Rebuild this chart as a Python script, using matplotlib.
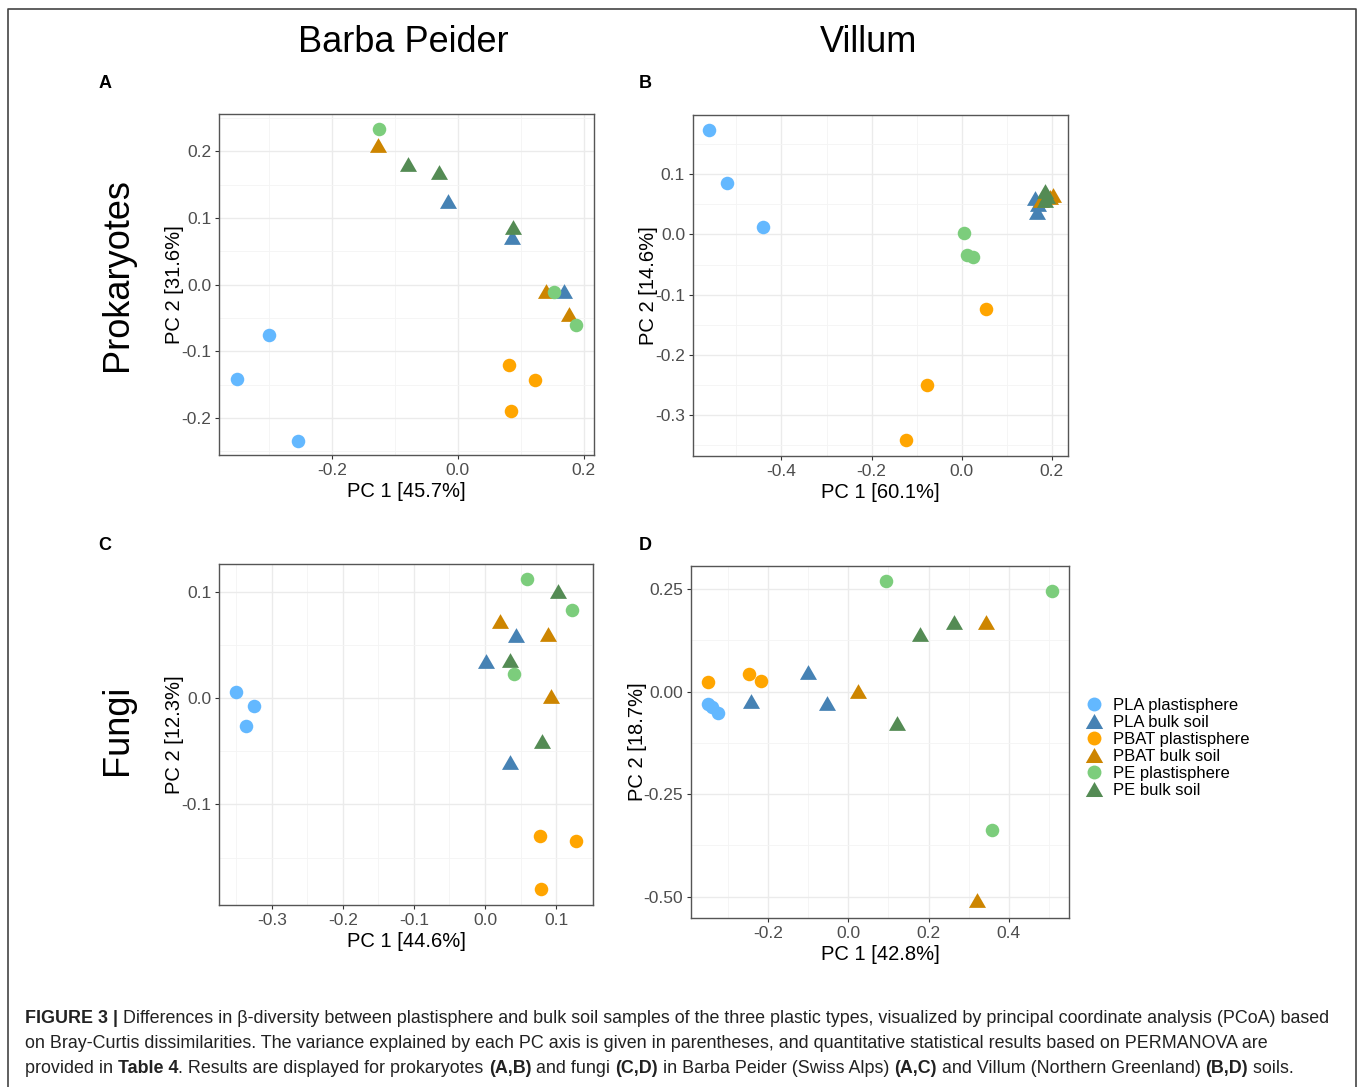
import numpy as np
import matplotlib as mpl
mpl.use('agg')
import matplotlib.pyplot as plt
from matplotlib.ticker import MultipleLocator
from matplotlib.lines import Line2D
from matplotlib.path import Path

plt.rcParams['font.family'] = ['Liberation Sans', 'DejaVu Sans']

groups = ["PLA plastisphere", "PLA bulk soil", "PBAT plastisphere",
          "PBAT bulk soil", "PE plastisphere", "PE bulk soil"]
colors = ["#63B8FF", "#4682B4", "#FFA500", "#CD8500", "#7CCD7C", "#548B54"]
shapes = ["o", "tri", "o", "tri", "o", "tri"]

# panel A - prokaryotes, Barba Peider  (PC1, PC2) per group
a_x = [[-0.300, -0.351, -0.253], [-0.016, 0.086, 0.168], [0.081, 0.123, 0.085],
       [-0.126, 0.140, 0.177], [-0.125, 0.153, 0.188], [-0.079, -0.030, 0.088]]
a_y = [[-0.076, -0.142, -0.234], [0.125, 0.072, -0.010], [-0.120, -0.143, -0.190],
       [0.210, -0.010, -0.044], [0.233, -0.011, -0.061], [0.181, 0.169, 0.086]]

# panel B - prokaryotes, Villum
b_x = [[-0.561, -0.522, -0.442], [0.163, 0.166, 0.170], [0.053, -0.078, -0.124],
       [0.175, 0.203, 0.195], [0.004, 0.011, 0.024], [0.185, 0.185, 0.190]]
b_y = [[0.174, 0.086, 0.013], [0.060, 0.038, 0.050], [-0.124, -0.250, -0.342],
       [0.058, 0.066, 0.062], [0.002, -0.034, -0.038], [0.072, 0.058, 0.064]]

# panel C - fungi, Barba Peider
c_x = [[-0.350, -0.325, -0.336], [0.001, 0.044, 0.035], [0.078, 0.128, 0.079],
       [0.021, 0.089, 0.093], [0.059, 0.123, 0.041], [0.103, 0.035, 0.080]]
c_y = [[0.006, -0.007, -0.026], [0.035, 0.060, -0.060], [-0.130, -0.134, -0.180],
       [0.073, 0.061, 0.002], [0.112, 0.083, 0.023], [0.101, 0.036, -0.040]]

# panel D - fungi, Villum
d_x = [[-0.351, -0.341, -0.326], [-0.244, -0.101, -0.054], [-0.350, -0.247, -0.217],
       [0.025, 0.344, 0.321], [0.093, 0.507, 0.358], [0.180, 0.264, 0.122]]
d_y = [[-0.031, -0.037, -0.052], [-0.024, 0.049, -0.028], [0.023, 0.044, 0.026],
       [0.002, 0.171, -0.508], [0.269, 0.246, -0.337], [0.141, 0.171, -0.077]]

W, H = 1358, 1087
fig = plt.figure(figsize=(W / 100, H / 100), dpi=100)

tri = Path([(-1, -0.866), (1, -0.866), (0, 0.866), (-1, -0.866)],
           [Path.MOVETO, Path.LINETO, Path.LINETO, Path.CLOSEPOLY])


def px_rect(l, t, r, b):
    return [l / W, 1 - b / H, (r - l) / W, (b - t) / H]


def fmt(f):
    def inner(v, p):
        if abs(v) < 1e-9:
            v = 0.0
        return f % v
    return mpl.ticker.FuncFormatter(inner)


def panel(rect, xs, ys, xlim, ylim, xmaj, ymaj, xlab, ylab, yfmt):
    ax = fig.add_axes(rect)
    for i in range(len(groups)):
        if shapes[i] == "o":
            ax.scatter(xs[i], ys[i], s=95, marker="o", color=colors[i], linewidths=0, zorder=3)
        else:
            ax.scatter(xs[i], ys[i], s=150, marker=tri, color=colors[i], linewidths=0, zorder=3)
    ax.set_xlim(xlim)
    ax.set_ylim(ylim)
    ax.xaxis.set_major_locator(MultipleLocator(xmaj))
    ax.yaxis.set_major_locator(MultipleLocator(ymaj))
    ax.xaxis.set_minor_locator(MultipleLocator(xmaj / 2))
    ax.yaxis.set_minor_locator(MultipleLocator(ymaj / 2))
    ax.xaxis.set_major_formatter(fmt('%.1f'))
    ax.yaxis.set_major_formatter(fmt(yfmt))
    ax.grid(which='major', color='#EBEBEB', linewidth=1.0)
    ax.grid(which='minor', color='#F4F4F4', linewidth=0.6)
    ax.set_axisbelow(True)
    ax.tick_params(which='major', length=3, width=0.8, color='#333333',
                   labelsize=12.5, labelcolor='#4D4D4D', pad=2.5)
    ax.tick_params(which='minor', length=0)
    for sp in ax.spines.values():
        sp.set_color('#555555')
        sp.set_linewidth(1.0)
    ax.set_xlabel(xlab, fontsize=14.5, labelpad=3)
    ax.set_ylabel(ylab, fontsize=14.5, labelpad=-2)
    return ax


panel(px_rect(219, 114.5, 594, 455), a_x, a_y, (-0.379, 0.216), (-0.2555, 0.2555),
      0.2, 0.1, "PC 1 [45.7%]", "PC 2 [31.6%]", '%.1f')
panel(px_rect(692.7, 115.3, 1067.7, 456), b_x, b_y, (-0.597, 0.235), (-0.368, 0.198),
      0.2, 0.1, "PC 1 [60.1%]", "PC 2 [14.6%]", '%.1f')
panel(px_rect(219.3, 564.3, 593.3, 905), c_x, c_y, (-0.3737, 0.1524), (-0.1947, 0.1262),
      0.1, 0.1, "PC 1 [44.6%]", "PC 2 [12.3%]", '%.1f')
panel(px_rect(691, 566, 1069, 918.3), d_x, d_y, (-0.3925, 0.5505), (-0.5525, 0.3063),
      0.2, 0.25, "PC 1 [42.8%]", "PC 2 [18.7%]", '%.2f')

# column / row headings and panel letters
fig.text(403 / W, 1 - 42 / H, "Barba Peider", ha='center', va='center', fontsize=26)
fig.text(869 / W, 1 - 42 / H, "Villum", ha='center', va='center', fontsize=26)
fig.text(117 / W, 1 - 275 / H, "Prokaryotes", ha='center', va='center', fontsize=26, rotation=90)
fig.text(118 / W, 1 - 730 / H, "Fungi", ha='center', va='center', fontsize=26, rotation=90)
for lab, x, y in [("A", 105, 83), ("B", 645, 83), ("C", 105, 546), ("D", 645, 546)]:
    fig.text(x / W, 1 - y / H, lab, ha='center', va='center', fontsize=13, fontweight='bold')

# legend
handles = []
for i in range(len(groups)):
    m = "o" if shapes[i] == "o" else tri
    ms = 10 if shapes[i] == "o" else 12.5
    handles.append(Line2D([], [], linestyle='none', marker=m, markersize=ms,
                          markerfacecolor=colors[i], markeredgewidth=0, label=groups[i]))
fig.legend(handles=handles, loc='upper left', bbox_to_anchor=(1086 / W, 1 - 698 / H),
           frameon=False, fontsize=12, labelspacing=0.12, handlelength=1.0,
           handletextpad=0.6, borderpad=0, borderaxespad=0)

# outer frame
fig.add_artist(plt.Line2D([8 / W, 8 / W, 1356 / W, 1356 / W], [0, 1 - 9 / H, 1 - 9 / H, 0],
                          color='#444444', linewidth=1.2))

# caption with bold pieces
caption = [
    [("FIGURE 3 |", True), (" Differences in β-diversity between plastisphere and bulk soil samples of the three plastic types, visualized by principal coordinate analysis (PCoA) based", False)],
    [("on Bray-Curtis dissimilarities. The variance explained by each PC axis is given in parentheses, and quantitative statistical results based on PERMANOVA are", False)],
    [("provided in ", False), ("Table 4", True), (". Results are displayed for prokaryotes ", False), ("(A,B)", True),
     (" and fungi ", False), ("(C,D)", True), (" in Barba Peider (Swiss Alps) ", False), ("(A,C)", True),
     (" and Villum (Northern Greenland) ", False), ("(B,D)", True), (" soils.", False)],
]
renderer = fig.canvas.get_renderer()
for k, line in enumerate(caption):
    x = 25 / W
    y = 1 - (1023 + 25 * k) / H
    for txt, bold in line:
        t = fig.text(x, y, txt, ha='left', va='baseline', fontsize=12.9,
                     fontweight='bold' if bold else 'normal', color='#222222')
        bb = t.get_window_extent(renderer)
        x += bb.width / W

fig.savefig('out.png', dpi=100)
